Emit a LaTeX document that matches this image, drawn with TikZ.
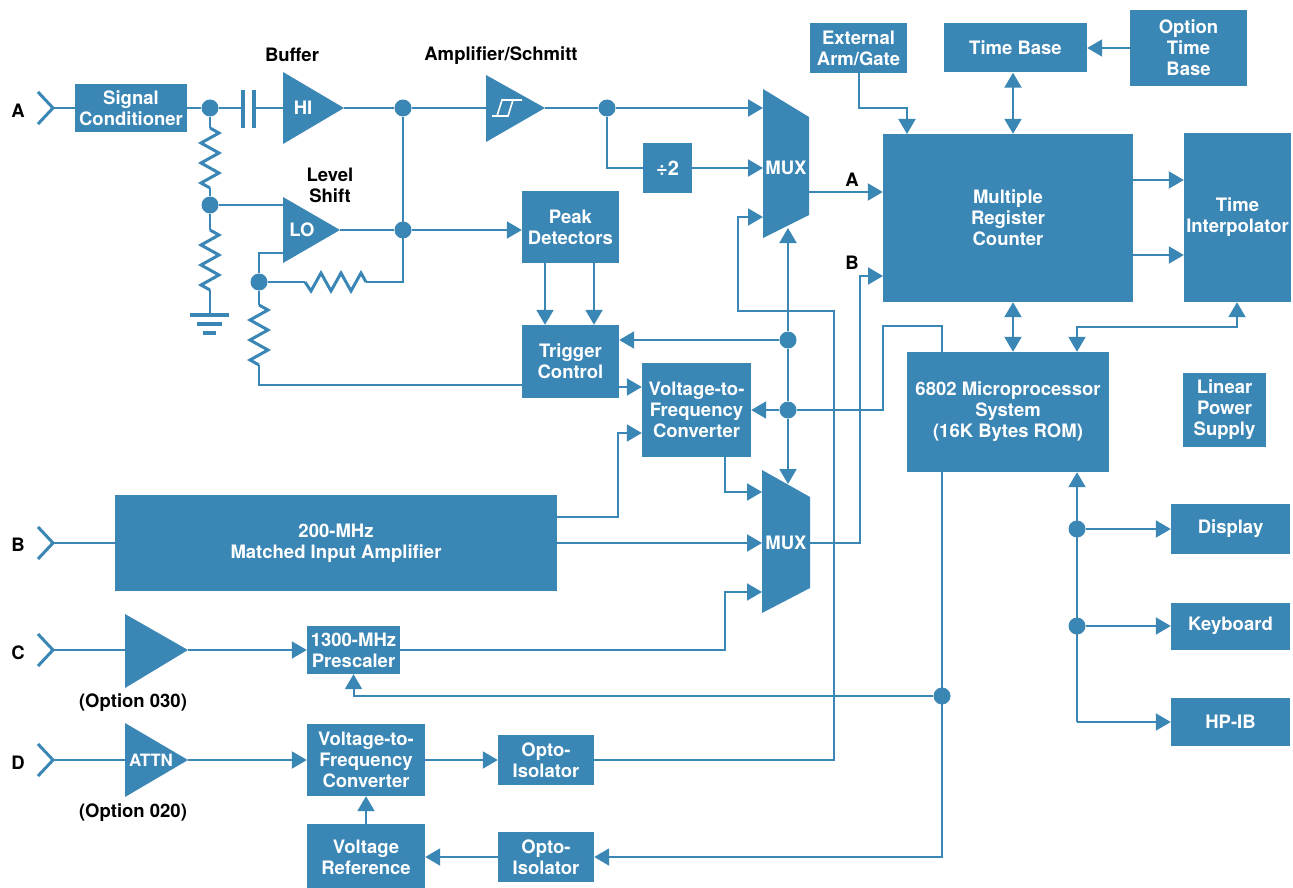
\documentclass[tikz,border=0pt]{standalone}
\usepackage{fontspec}
\setmainfont{TeX Gyre Heros}
\usetikzlibrary{arrows.meta,calc}
\definecolor{hpblue}{RGB}{58,134,181}
\begin{document}
\begin{tikzpicture}[x=1pt,y=-1pt,
  wire/.style={draw=hpblue,line width=2pt},
  arr/.style={wire,-{Triangle[length=15pt,width=17pt]}},
  dbl/.style={wire,{Triangle[length=15pt,width=17pt]}-{Triangle[length=15pt,width=17pt]}},
  blk/.style={rectangle,fill=hpblue,text=white,inner sep=0pt,align=center,font=\bfseries\fontsize{18.5}{21}\selectfont},
  wtxt/.style={text=white,inner sep=0pt,align=center,font=\bfseries\fontsize{18.5}{21}\selectfont},
  lbl/.style={text=black,inner sep=0pt,align=center,font=\bfseries\fontsize{18.5}{21}\selectfont},
  dot/.style={circle,fill=hpblue,inner sep=0pt,minimum size=17pt},
  chev/.style={draw=hpblue,line width=3pt},
  res/.style={draw=hpblue,line width=3pt,line join=miter}
]
\useasboundingbox[fill=white] (0,0) rectangle (1293,888);

% ---------- helper coordinates ----------
\coordinate (y180) at (0,180);
\coordinate (y255) at (0,255);
\coordinate (y387) at (0,387);
\coordinate (y433) at (0,433);
\coordinate (y517) at (0,517);
\coordinate (x725) at (725,0);
\coordinate (x942) at (942,0);
\coordinate (x1013) at (1013,0);
\coordinate (x1077) at (1077,0);
\coordinate (x1237) at (1237,0);

% ---------- blocks ----------
\node[blk,minimum width=112pt,minimum height=48pt] (sc) at (131,108) {Signal\\Conditioner};
\node[blk,minimum width=49pt,minimum height=49pt,font=\bfseries\fontsize{20}{22}\selectfont] (div) at (667.5,168) {÷2};
\node[blk,minimum width=97pt,minimum height=72pt] (peak) at (570.5,227) {Peak\\Detectors};
\node[blk,minimum width=97pt,minimum height=73pt] (trig) at (570.5,361.5) {Trigger\\Control};
\node[blk,minimum width=109pt,minimum height=94pt] (vtf1) at (696.5,410) {Voltage-to-\\Frequency\\Converter};
\node[blk,minimum width=442pt,minimum height=96pt] (amp) at (336,543) {200-MHz\\Matched Input Amplifier};
\node[blk,minimum width=93pt,minimum height=48pt] (pre) at (353.5,650) {1300-MHz\\Prescaler};
\node[blk,minimum width=118pt,minimum height=72pt] (vtf2) at (366,760) {Voltage-to-\\Frequency\\Converter};
\node[blk,minimum width=96pt,minimum height=50pt] (opto1) at (546,760) {Opto-\\Isolator};
\node[blk,minimum width=118pt,minimum height=66pt] (vref) at (366,857) {Voltage\\Reference};
\node[blk,minimum width=96pt,minimum height=50pt] (opto2) at (546,857) {Opto-\\Isolator};
\node[blk,minimum width=97pt,minimum height=50pt] (ext) at (858.5,48) {External\\Arm/Gate};
\node[blk,minimum width=143pt,minimum height=49pt] (tb) at (1015.5,48) {Time Base};
\node[blk,minimum width=117pt,minimum height=76pt] (otb) at (1188.5,48) {Option\\Time\\Base};
\node[blk,minimum width=250pt,minimum height=168pt] (mrc) at (1008,218) {Multiple\\Register\\Counter};
\node[blk,minimum width=107pt,minimum height=169pt] (ti) at (1237.5,217.5) {Time\\Interpolator};
\node[blk,minimum width=202pt,minimum height=120pt] (mp) at (1008,412) {6802 Microprocessor\\System\\(16K Bytes ROM)};
\node[blk,minimum width=83pt,minimum height=74pt] (lps) at (1224.5,410) {Linear\\Power\\Supply};
\node[blk,minimum width=119pt,minimum height=50pt] (disp) at (1230.5,529) {Display};
\node[blk,minimum width=119pt,minimum height=47pt] (kbd) at (1230.5,626) {Keyboard};
\node[blk,minimum width=119pt,minimum height=48pt] (hpib) at (1230.5,722) {HP-IB};

% ---------- multiplexers ----------
\fill[hpblue] (763,89) -- (809,117) -- (809,215) -- (763,238) -- cycle;
\node[wtxt] (muxA) at (786,168) {MUX};
\coordinate (mA1) at (763,108);
\coordinate (mA2) at (763,168);
\coordinate (mA3) at (763,217);
\coordinate (mAo) at (809,192);
\coordinate (mAs) at (788,228);
\fill[hpblue] (762,470) -- (810,497) -- (810,588) -- (762,613) -- cycle;
\node[wtxt] (muxB) at (786,543) {MUX};
\coordinate (mB1) at (762,492);
\coordinate (mB2) at (762,543);
\coordinate (mB3) at (762,592);
\coordinate (mBo) at (810,543);
\coordinate (mBs) at (788,484);

% ---------- amplifiers ----------
\fill[hpblue] (283,72) -- (344,108) -- (283,144) -- cycle;
\node[wtxt] (hi) at (303,108) {HI};
\coordinate (hiIn) at (283,108);
\coordinate (hiOut) at (344,108);
\fill[hpblue] (486,75) -- (545,108) -- (486,142) -- cycle;
\coordinate (schIn) at (486,108);
\coordinate (schOut) at (545,108);
\draw[white,line width=1.6pt] (492,116) -- (508,116) -- (513,100) -- (522,100);
\draw[white,line width=1.6pt] (497,116) -- (502,100) -- (513,100);
\fill[hpblue] (283,197) -- (340,230) -- (283,263) -- cycle;
\node[wtxt] (lo) at (302,230) {LO};
\coordinate (loOut) at (340,230);
\fill[hpblue] (125,614) -- (188,650) -- (125,688) -- cycle;
\coordinate (cIn) at (125,650);
\coordinate (cOut) at (188,650);
\fill[hpblue] (125,723) -- (188,760) -- (125,797) -- cycle;
\node[wtxt,font=\bfseries\fontsize{17}{19}\selectfont] (attn) at (151,760) {ATTN};
\coordinate (dIn) at (125,760);
\coordinate (dOut) at (188,760);

% ---------- inputs ----------
\draw[chev] (38,92) -- (53,108) -- (38,124);
\draw[chev] (38,527) -- (53,543) -- (38,559);
\draw[chev] (38,634) -- (53,650) -- (38,666);
\draw[chev] (38,744) -- (53,760) -- (38,776);
\coordinate (inA) at (53,108);
\coordinate (inB) at (53,543);
\coordinate (inC) at (53,650);
\coordinate (inD) at (53,760);
\node[lbl] (lA) at (18,111) {A};
\node[lbl] (lB) at (18,545) {B};
\node[lbl] (lC) at (18,653) {C};
\node[lbl] (lD) at (18,763) {D};

% ---------- dots ----------
\node[dot] (dS) at (210,108) {};
\node[dot] (dM) at (210,205) {};
\node[dot] (dH) at (403,108) {};
\node[dot] (dL) at (403,230) {};
\node[dot] (dF) at (259,282) {};
\node[dot] (dSch) at (607,108) {};
\node[dot] (dTa) at (788,340) {};
\node[dot] (dTb) at (788,410) {};
\node[dot] (dP) at (942,696) {};
\node[dot] (dD) at (1077,529) {};
\node[dot] (dK) at (1077,626) {};
\coordinate (hpY) at (1077,722);

% ---------- front end A ----------
\draw[wire] (inA) -- (sc.west);
\draw[wire] (sc.east) -- (dS);
\draw[wire] (dS) -- (243,108);
\draw[hpblue,line width=4pt] (243,90) -- (243,128) (254,90) -- (254,128);
\draw[wire] (254,108) -- (hiIn);
\draw[wire] (hiOut) -- (dH);
\draw[wire] (dH) -- (schIn);
\draw[wire] (schOut) -- (dSch);
\draw[arr] (dSch) -- (mA1);
\draw[wire] (dSch) |- (div.west);
\draw[arr] (div.east) -- (mA2);

% divider / level shift network
\draw[wire] (dS) -- (210,128);
\draw[res] (210,128) -- (219,133) -- (201,143) -- (219,153) -- (201,163) -- (219,173) -- (201,183) -- (210,188);
\draw[wire] (210,188) -- (dM);
\draw[wire] (dM) -- (210,230);
\draw[res] (210,230) -- (219,235) -- (201,245) -- (219,255) -- (201,265) -- (219,275) -- (201,285) -- (210,290);
\draw[wire] (210,290) -- (210,315);
\draw[hpblue,line width=4pt] (190,315) -- (229,315) (197,324) -- (222,324) (203,333) -- (216,333);
\draw[wire] (dM) -- (283,205);
\draw[wire] (283,253) -- (259,253) -- (dF);
\draw[wire] (loOut) -- (dL);
\draw[arr] (dL) -- (dL -| peak.west);
\draw[wire] (dH) -- (403,282) -- (366,282);
\draw[res] (366,282) -- (361,273) -- (351,291) -- (341,273) -- (331,291) -- (321,273) -- (311,291) -- (305,282);
\draw[wire] (305,282) -- (dF);
\draw[wire] (dF) -- (259,305);
\draw[res] (259,305) -- (268,310) -- (250,320) -- (268,330) -- (250,340) -- (268,350) -- (250,360) -- (259,365);
\coordinate (tIn) at (259,385);
\draw[wire] (259,365) -- (tIn) -- (tIn -| trig.west);

% peak detectors -> trigger control
\draw[arr] ([xshift=-25.5pt]peak.south) -- ([xshift=-25.5pt]trig.north);
\draw[arr] ([xshift=23.5pt]peak.south) -- ([xshift=23.5pt]trig.north);
\draw[arr] (trig.east |- y387) -- (vtf1.west |- y387);

% control bus x=788
\draw[arr] (dTa) -- (mAs);
\draw[wire] (dTa) -- (dTb);
\draw[arr] (dTb) -- (mBs);
\draw[arr] (dTa) -- (dTa -| trig.east);
\draw[arr] (dTb) -- (dTb -| vtf1.east);
\draw[wire] (mp.north -| x942) -- (942,326) -- (883,326) -- (883,410) -- (dTb);

% channel B and multiplexer B
\draw[wire] (inB) -- (amp.west);
\draw[arr] (amp.east |- y517) -- (618,517) -- (618,433) -- (vtf1.west |- y433);
\draw[arr] (vtf1.south -| x725) -- (725,492) -- (mB1);
\draw[arr] (amp.east) -- (mB2);
\draw[arr] (pre.east) -- (725,650) -- (725,592) -- (mB3);
\draw[arr] (mBo) -- (860,543) -- (860,276) -- (883,276);
\draw[arr] (mAo) -- (mAo -| mrc.west);
\node[lbl] (lmA) at (852,180) {A};
\node[lbl] (lmB) at (852,263) {B};

% channel C
\draw[wire] (inC) -- (cIn);
\draw[arr] (cOut) -- (pre.west);
\draw[arr] (dP) -| (pre.south);

% channel D
\draw[wire] (inD) -- (dIn);
\draw[arr] (dOut) -- (vtf2.west);
\draw[arr] (vtf2.east) -- (opto1.west);
\draw[arr] (opto1.east) -- (834,760) -- (834,311) -- (738,311) -- (738,217) -- (mA3);
\draw[arr] (vref.north) -- (vtf2.south);
\draw[arr] (opto2.west) -- (vref.east);
\draw[arr] (mp.south -| x942) -- (942,857) -- (opto2.east);

% counter section
\draw[arr] (ext.south) |- (907,108) -- (907,134);
\draw[dbl] (tb.south -| x1013) -- (mrc.north -| x1013);
\draw[arr] (otb.west) -- (otb.west -| tb.east);
\draw[arr] (mrc.east |- y180) -- (ti.west |- y180);
\draw[arr] (mrc.east |- y255) -- (ti.west |- y255);
\draw[dbl] (mrc.south -| x1013) -- (mp.north -| x1013);
\draw[dbl] (ti.south -| x1237) -- (1237,327) -- (1077,327) -- (mp.north -| x1077);
\draw[arr] (hpY) -- (mp.south -| x1077);
\draw[arr] (dD) -- (dD -| disp.west);
\draw[arr] (dK) -- (dK -| kbd.west);
\draw[arr] (hpY) -- (hpY -| hpib.west);

% ---------- labels ----------
\node[lbl] (lbuf) at (292,55) {Buffer};
\node[lbl] (lsch) at (501,56) {Amplifier/Schmitt};
\node[lbl] (llev) at (330,185) {Level\\Shift};
\node[lbl] (lo30) at (133,703) {(Option 030)};
\node[lbl] (lo20) at (133,813) {(Option 020)};
\end{tikzpicture}
\end{document}
